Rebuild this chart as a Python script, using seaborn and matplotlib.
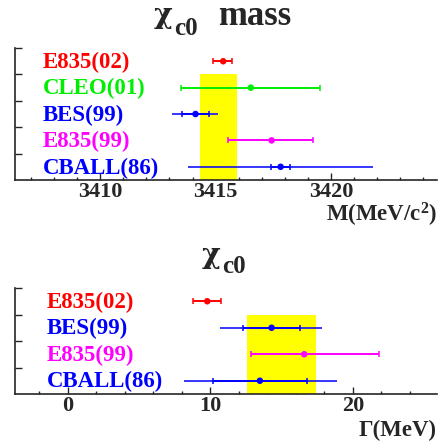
import numpy as np
import pandas as pd
import matplotlib
matplotlib.use("Agg")
import matplotlib.pyplot as plt
import matplotlib.transforms as mtransforms
from matplotlib.ticker import MultipleLocator
import seaborn as sns

# MASS MEASUREMENTS (MeV/c^2)
mass_labels = ["E835(02)", "CLEO(01)", "BES(99)", "E835(99)", "CBALL(86)"]
mass_colors = ["#ff0000", "#00ee00", "#0000ff", "#ff00ff", "#0000ff"]
mass_val = [3415.33, 3416.53, 3414.13, 3417.43, 3417.82]
mass_stat_lo = [0.43, 3.03, 0.60, 1.91, 0.40]
mass_stat_hi = [0.39, 3.02, 0.60, 1.80, 0.40]
mass_tot_lo = [0.43, 3.03, 1.01, 1.91, 4.02]
mass_tot_hi = [0.39, 3.02, 0.99, 1.80, 4.02]
mass_band = [3414.32, 3415.91]

# WIDTH MEASUREMENTS (MeV)
width_labels = ["E835(02)", "BES(99)", "E835(99)", "CBALL(86)"]
width_colors = ["#ff0000", "#0000ff", "#ff00ff", "#0000ff"]
width_val = [9.79, 14.30, 16.59, 13.48]
width_stat_lo = [1.03, 1.99, 3.74, 3.32]
width_stat_hi = [0.96, 2.03, 5.26, 3.32]
width_tot_lo = [1.03, 3.62, 3.74, 5.33]
width_tot_hi = [0.96, 3.57, 5.26, 5.38]
width_band = [12.55, 17.45]

sns.set_style("ticks")
plt.rcParams["font.family"] = ["Liberation Serif", "DejaVu Serif"]
plt.rcParams["font.weight"] = "bold"
plt.rcParams["mathtext.fontset"] = "custom"
plt.rcParams["mathtext.rm"] = "Liberation Serif:bold"
plt.rcParams["mathtext.it"] = "Liberation Serif:bold"
plt.rcParams["mathtext.bf"] = "Liberation Serif:bold"

W, H = 440, 445
fig = plt.figure(figsize=(W / 100, H / 100), dpi=100)
ax1 = fig.add_axes([0.034, 0.5955, 0.959, 0.2965])
ax2 = fig.add_axes([0.034, 0.1146, 0.959, 0.2382])


def draw_panel(ax, labels, colors, val, slo, shi, tlo, thi, band, xlim,
               major, minor, label_x):
    n = len(labels)
    df = pd.DataFrame({"label": labels, "val": val, "row": np.arange(n)})
    # yellow average band covers all rows but the newest one
    ax.fill_betweenx([0.5, n - 0.5], band[0], band[1], color="#ffff00",
                     lw=0, zorder=1)
    for i in range(n):
        ax.hlines(i, val[i] - tlo[i], val[i] + thi[i], color=colors[i],
                  lw=1.1, zorder=2)
        ax.errorbar(val[i], i, xerr=[[slo[i]], [shi[i]]], fmt="none",
                    ecolor=colors[i], elinewidth=1.3, capsize=2.5,
                    capthick=1.1, zorder=3)
    sns.scatterplot(data=df, x="val", y="row", hue="label",
                    palette=dict(zip(labels, colors)), legend=False,
                    s=22, edgecolor="none", ax=ax, zorder=4)
    trans = mtransforms.blended_transform_factory(ax.transAxes, ax.transData)
    for i in range(n):
        ax.text(label_x, i - 0.05, labels[i], transform=trans,
                color=colors[i], fontsize=16.5, fontweight="bold",
                ha="left", va="center_baseline")
    ax.set_xlim(*xlim)
    ax.set_ylim(n - 0.5, -0.5)
    ax.set_yticks(np.arange(n) - 0.5)
    ax.set_yticklabels([])
    ax.xaxis.set_major_locator(MultipleLocator(major))
    ax.xaxis.set_minor_locator(MultipleLocator(minor))
    ax.tick_params(axis="x", which="major", direction="in", length=5,
                   width=1, labelsize=16, pad=1.5)
    ax.tick_params(axis="x", which="minor", direction="in", length=2.5,
                   width=1)
    ax.tick_params(axis="y", direction="in", length=5, width=1)
    for t in ax.get_xticklabels():
        t.set_fontweight("bold")
    ax.set_xlabel("")
    ax.set_ylabel("")
    sns.despine(ax=ax)
    for s in ["left", "bottom"]:
        ax.spines[s].set_linewidth(1.2)


draw_panel(ax1, mass_labels, mass_colors, mass_val, mass_stat_lo,
           mass_stat_hi, mass_tot_lo, mass_tot_hi, mass_band,
           (3406.3, 3424.6), 5, 1, 0.066)
draw_panel(ax2, width_labels, width_colors, width_val, width_stat_lo,
           width_stat_hi, width_tot_lo, width_tot_hi, width_band,
           (-3.7, 25.9), 10, 2, 0.076)


def px(x, y):
    return x / W, 1 - y / H


# titles: chi, subscript and word placed as separate pieces
chi_font = dict(family="DejaVu Serif", fontsize=20.5, fontweight="bold")
fig.text(*px(154, 29), "χ", ha="left", va="bottom", **chi_font)
fig.text(*px(174, 35), "c0", fontsize=18, ha="left", va="baseline")
fig.text(*px(218, 25), "mass", fontsize=25, ha="left", va="baseline")
fig.text(*px(202, 269), "χ", ha="left", va="bottom", **chi_font)
fig.text(*px(222, 273), "c0", fontsize=18, ha="left", va="baseline")

fig.text(*px(437, 222), r"M(MeV/c$^{2}$)", fontsize=16.5, ha="right",
         va="baseline")
fig.text(*px(437, 436), "Γ(MeV)", fontsize=16.5, ha="right",
         va="baseline")

fig.savefig("out.png", dpi=100)
plt.close(fig)
